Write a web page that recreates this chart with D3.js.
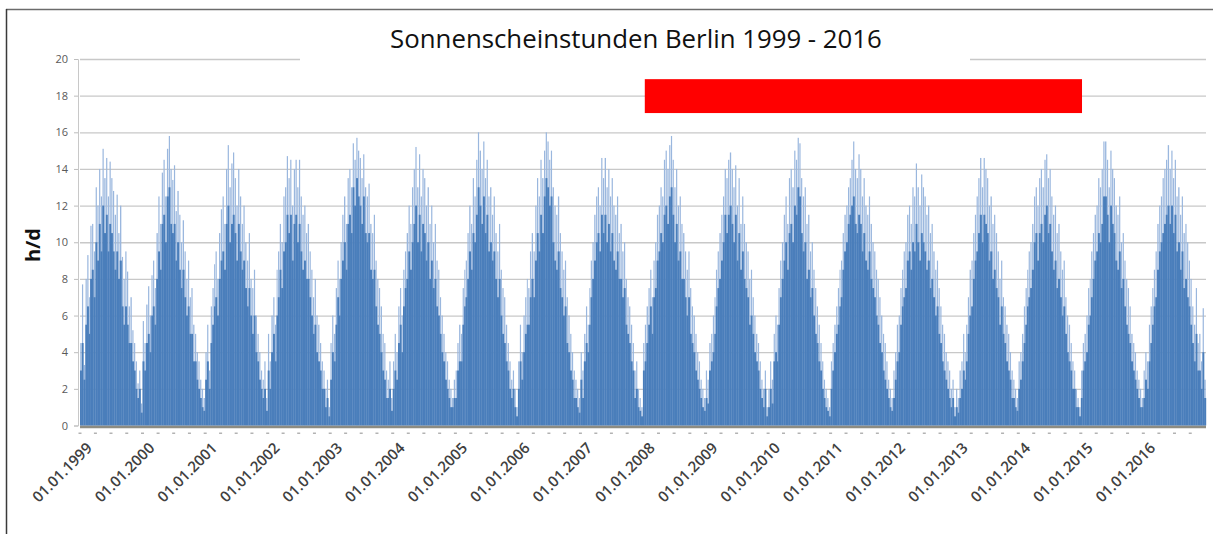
<!DOCTYPE html>
<html>
<head>
<meta charset="utf-8">
<script src="https://cdn.jsdelivr.net/npm/d3@7"></script>
<style>
  body { margin: 0; background: #fff; }
  svg { display: block; font-family: "Open Sans", sans-serif; }
</style>
</head>
<body>
<div id="chart"></div>
<script>
// tick labels and axis values
const yearLabels = ["01.01.1999","01.01.2000","01.01.2001","01.01.2002","01.01.2003","01.01.2004",
  "01.01.2005","01.01.2006","01.01.2007","01.01.2008","01.01.2009","01.01.2010",
  "01.01.2011","01.01.2012","01.01.2013","01.01.2014","01.01.2015","01.01.2016"];
const yTicks = [0, 2, 4, 6, 8, 10, 12, 14, 16, 18, 20];

// sunshine hours per day, read per 10-day period (3 per month): the highest days
const peakHours = [
  [4.5,7.7,3.3,8.0,9.3,7.0,10.9,11.0,9.5,13.0,12.0,14.0,12.5,15.1,13.5,14.6,12.5,14.4,13.5,12.8,11.5,12.6,10.5,12.0,9.2,8.0,9.5,8.4,6.5,7.0,5.2,4.5,3.5,2.3,3.0,1.2],
  [5.7,4.5,6.6,7.6,6.0,8.2,9.0,7.5,10.5,12.5,11.0,13.8,14.5,12.5,15.1,15.8,14.0,13.4,14.2,11.7,12.8,11.5,10.0,11.2,9.5,8.0,9.0,7.0,7.5,5.5,5.0,4.0,3.5,2.5,2.0,1.5],
  [4.0,5.5,3.0,6.5,7.5,8.8,9.5,8.0,10.5,11.8,12.5,11.0,14.0,15.3,13.0,14.3,14.9,13.5,12.0,14.0,12.5,11.0,12.0,10.0,9.0,10.5,8.0,7.5,8.5,6.0,5.0,4.0,3.0,2.5,3.5,1.5],
  [5.0,3.5,6.0,7.0,5.5,8.5,9.5,11.0,10.0,12.5,13.0,14.7,13.5,14.5,12.0,14.0,14.5,13.0,14.5,12.5,11.5,12.0,10.5,11.0,9.5,8.5,7.0,8.0,6.0,5.5,4.5,3.5,3.0,2.0,2.5,1.0],
  [4.5,6.0,5.0,7.5,9.0,8.0,10.0,11.5,12.5,11.0,13.5,14.0,13.0,15.4,14.5,15.7,15.0,14.6,13.5,14.8,13.0,12.5,13.2,11.0,10.5,11.5,9.0,8.0,7.5,6.5,5.0,4.5,3.0,2.5,3.5,1.5],
  [3.5,5.0,4.0,6.5,7.5,6.0,8.5,9.5,10.5,12.0,11.0,13.0,14.0,15.2,13.0,14.8,12.5,14.0,13.5,12.0,13.0,11.0,12.0,10.0,11.0,9.0,8.5,7.0,6.0,5.0,4.0,3.5,2.5,2.0,1.5,2.5],
  [3.0,4.5,5.5,5.0,7.5,8.5,9.0,10.5,12.0,11.0,13.5,12.5,14.5,16.0,15.0,14.0,15.5,13.5,14.5,12.5,13.0,11.5,12.5,10.5,9.5,11.0,8.5,7.5,7.0,5.5,4.5,3.5,2.5,3.0,2.0,1.0],
  [3.5,5.5,4.0,6.0,7.0,8.0,7.5,9.5,10.5,9.5,12.0,13.5,12.5,14.5,13.5,15.0,16.0,15.5,14.5,15.0,13.0,12.0,11.5,12.5,10.5,9.5,8.5,9.0,7.0,6.0,5.0,4.0,3.0,2.5,2.0,1.5],
  [4.0,3.0,5.0,6.5,5.5,7.5,9.0,10.0,11.5,12.5,13.0,12.0,14.6,13.5,14.6,13.0,14.0,12.5,13.5,12.0,11.5,12.5,10.5,11.0,9.5,10.0,8.0,7.0,6.5,5.5,4.5,3.0,3.5,2.0,1.5,1.0],
  [4.5,5.5,6.5,7.5,8.5,7.0,9.0,10.0,11.5,12.0,13.0,12.5,14.5,15.0,14.0,15.3,15.8,14.5,13.0,14.0,12.0,12.5,11.0,10.5,9.5,8.5,9.5,7.5,6.5,6.0,5.0,4.0,3.5,2.5,2.0,1.5],
  [3.0,2.5,4.5,5.0,6.0,7.0,8.5,9.5,10.5,11.5,12.5,14.0,13.5,14.5,14.9,14.0,13.0,14.2,12.0,13.5,11.0,12.5,11.0,10.0,9.5,8.0,8.5,7.0,6.0,5.0,4.5,3.5,2.5,2.0,3.0,1.0],
  [2.0,3.5,2.5,5.0,6.0,5.5,7.5,9.0,10.0,11.5,12.5,11.0,13.5,14.0,13.0,15.0,14.5,15.7,15.4,13.5,12.5,13.0,11.0,11.5,9.5,10.0,8.5,7.5,6.5,5.5,4.5,3.5,2.5,2.0,1.5,1.0],
  [3.5,4.5,5.5,6.5,7.5,8.5,9.0,10.5,11.5,12.0,13.0,13.5,14.5,15.5,14.0,13.5,14.8,14.0,12.5,13.5,12.0,11.5,12.5,11.0,10.0,9.5,8.5,8.0,7.0,6.0,5.0,4.5,3.5,2.5,2.0,1.5],
  [3.0,4.0,5.5,6.0,7.5,8.5,9.5,10.0,11.5,12.0,11.0,13.0,12.5,14.3,13.0,12.0,13.7,13.0,12.5,11.5,12.0,10.5,11.0,9.5,8.5,9.0,7.5,6.5,5.5,5.0,4.0,3.5,3.0,2.0,2.5,1.0],
  [2.0,1.5,3.0,3.5,5.0,4.0,5.5,7.0,8.5,9.0,10.5,11.5,12.5,13.5,14.6,13.0,14.6,14.0,13.5,12.0,12.5,11.0,11.5,10.5,9.5,8.0,9.0,7.0,6.5,5.5,5.0,4.0,3.0,2.5,2.0,1.5],
  [3.5,4.0,5.0,6.5,7.5,8.5,9.5,10.0,11.0,12.5,13.0,12.0,13.5,14.0,13.0,14.5,14.8,13.5,14.0,12.5,11.5,12.0,10.5,11.0,9.5,8.5,9.0,7.0,6.0,5.5,4.5,3.5,3.0,2.0,1.5,1.0],
  [3.0,4.5,5.0,6.0,7.5,8.0,9.5,10.5,11.5,12.0,13.5,13.0,14.0,15.5,15.5,14.5,13.0,15.0,14.0,13.5,12.0,11.5,12.5,10.0,10.5,9.0,8.0,7.5,6.5,5.0,4.5,4.0,3.0,2.5,2.0,1.5],
  [3.0,4.0,3.5,5.5,6.5,7.5,8.5,9.5,11.0,12.0,12.5,13.5,14.0,14.5,15.3,14.0,15.0,13.5,14.5,12.5,13.0,11.5,12.5,10.5,11.0,10.0,9.0,8.0,6.5,5.5,7.5,4.5,5.0,3.5,6.4,2.5]
];

// the level most days of each 10-day period reach (dense part of the bars)
const typicalHours = [
  [3.0,4.5,2.5,5.5,6.5,5,8,8.5,7,10,9,11,9.5,12,10.5,11.5,9.5,11,10.5,9.5,8.5,9.5,8,9,6.5,5.5,6.5,5.5,4.5,4.5,3.5,3,2,1.5,2,0.7],
  [3.5,3,4.5,5,4,6,6.5,5.5,8,9.5,8.5,11,11.5,10,12.5,13,11,10.5,11,9,10,8.5,7.5,8.5,7,6,6.5,5,5,3.5,3.5,2.5,2,1.5,1,0.8],
  [2.5,3.5,2,4.5,5.5,6.5,7,6,8,9,9.5,8.5,11,12,10,11,11.5,10.5,9,11,9.5,8.5,9,7.5,6.5,7.5,6,5,6,4,3.5,2.5,2,1.5,2,0.8],
  [3,2,4,5,3.5,6,7,8.5,7.5,9.5,10,11.5,10.5,11.5,9,11,11.5,10,11,9.5,8.5,9,8,8,7,6,5,5.5,4,3.5,3,2,2,1,1.5,0.5],
  [2.5,4,3.5,5.5,7,6,8,9,10,8.5,11,11.5,10.5,13,12,13.5,12.5,12,11,12.5,10.5,10,10.5,8.5,8,8.5,6.5,5.5,5,4,3,2.5,1.5,1.5,2,0.8],
  [2,3,2.5,4.5,5.5,4,6.5,7.5,8,9.5,8.5,10,11,12,10,11.5,9.5,11,10.5,9,10,8,9,7.5,8,6.5,6,5,4,3.5,2.5,2,1.5,1,1,1.5],
  [1.5,3,3.5,3.5,5.5,6.5,7,8,9.5,8.5,10.5,10,11.5,13,12,11,12.5,10.5,11.5,9.5,10,9,9.5,8,7,8,6,5,4.5,3.5,3,2,1.5,2,1,0.5],
  [2,3.5,2.5,4,5,5.5,5.5,7,8,7,9,10.5,9.5,11.5,10.5,12.5,13.5,13,12,12.5,10,9,8.5,9.5,7.5,7,6,6.5,4.5,4,3,2.5,1.5,1.5,1,0.7],
  [2.5,1.5,3.5,4.5,4,5.5,7,8,9,10,10.5,9.5,11.5,10.5,11.5,10,11,9.5,10.5,9,8.5,9.5,8,8,7,7.5,5.5,5,4.5,3.5,3,1.5,2,1,0.8,0.5],
  [3,3.5,4.5,5.5,6.5,5,7,7.5,9,9.5,10.5,10,11.5,12,11,12.5,13,11.5,10,11,9,9.5,8,8,7,6,7,5,4.5,4,3,2.5,2,1.5,1,0.8],
  [1.5,1.2,3,3.5,4,5,6.5,7.5,8,9,10,11.5,10.5,11.5,12,11,10,11.5,9,10.5,8.5,9.5,8,7.5,7,5.5,6,5,4,3.5,3,2,1.5,1,2,0.5],
  [1,2,1.2,3.5,4,3.5,5.5,7,8,9,10,8.5,10.5,11,10,12,11.5,13,12.5,10.5,9.5,10,8,8.5,7,7.5,6,5,4.5,3.5,3,2,1.5,1,0.8,0.5],
  [2,3,4,5,5.5,6.5,7,8.5,9.5,10,11,11.5,12,12.5,11,10.5,11.5,11,9.5,10.5,9,8.5,9.5,8,7.5,7,6,5.5,4.5,4,3,2.5,2,1.5,1,0.8],
  [1.5,2.5,3.5,4,5.5,6.5,7,7.5,9,9.5,8.5,10,9.5,11,10,9,10.5,10,9.5,8.5,9,7.5,8,7,6,6.5,5,4.5,3.5,3,2.5,2,1.5,1,1.5,0.5],
  [1,0.7,1.5,2,3,2.5,3.5,5,6,6.5,8,9,9.5,10.5,11.5,10,11.5,11,10.5,9,9.5,8,8.5,7.5,7,5.5,6.5,5,4.5,3.5,3,2.5,1.5,1.5,1,0.8],
  [2,2.5,3.5,4.5,5.5,6.5,7,7.5,8.5,10,10.5,9,10.5,11,10,11.5,12,10.5,11,9.5,8.5,9,7.5,8,7,6,6.5,5,4,3.5,3,2,2,1,1,0.5],
  [1.5,3,3.5,4,5.5,6,7,8,9,9.5,10.5,10,11,12.5,12.5,11.5,10,12,11,10.5,9,8.5,9.5,7.5,8,6.5,5.5,5,4.5,3.5,3,2.5,2,1.5,1,1],
  [1.5,2.5,2,3.5,4.5,5.5,6.5,7,8.5,9.5,10,10.5,11,11.5,12,11,12,10.5,11.5,9.5,10,8.5,9.5,7.5,8,7,6.5,5.5,4.5,3.5,5,3,3,2,4,1.5]
];

// red highlight band drawn in the chart (dates and hour levels)
const highlightFrom = new Date(2008, 0, 12);
const highlightTo = new Date(2015, 0, 8);
const highlightLow = 17.05;
const highlightHigh = 18.9;

const title = "Sonnenscheinstunden Berlin 1999 - 2016";
const yTitle = "h/d";

const width = 1213, height = 534;
const plot = { left: 80, right: 1206, top: 59, bottom: 425.5 };

const svg = d3.select("#chart").append("svg")
  .attr("width", width)
  .attr("height", height);

const x = d3.scaleTime()
  .domain([new Date(1999, 0, 1), new Date(2017, 0, 1)])
  .range([plot.left, plot.right]);

const y = d3.scaleLinear()
  .domain([0, 20])
  .range([plot.bottom, plot.top]);

// frame of the picture
svg.append("line").attr("x1", 6).attr("x2", width).attr("y1", 9.5).attr("y2", 9.5)
  .attr("stroke", "#6b6b6b").attr("stroke-width", 1.5);
svg.append("line").attr("x1", 6.5).attr("x2", 6.5).attr("y1", 9).attr("y2", height)
  .attr("stroke", "#3a3a3a").attr("stroke-width", 1.5);

// gridlines
svg.append("g")
  .attr("transform", "translate(" + plot.left + ",0)")
  .call(d3.axisLeft(y).tickValues(yTicks).tickSize(-(plot.right - plot.left)).tickFormat(""))
  .call(g => g.select(".domain").remove())
  .call(g => g.selectAll("line").attr("stroke", "#c8c8c8").attr("stroke-width", 1.3));

// y axis with labels
svg.append("g")
  .attr("transform", "translate(" + (plot.left - 2) + ",0)")
  .call(d3.axisLeft(y).tickValues(yTicks).tickSize(4).tickPadding(6))
  .call(g => g.select(".domain").attr("stroke", "#c8c8c8"))
  .call(g => g.selectAll("line").attr("stroke", "#bdbdbd"))
  .call(g => g.selectAll("text").attr("fill", "#595959").style("font-size", "11px")
    .style("font-family", "'Open Sans', sans-serif"));

// flatten into 10-day periods
const periods = [];
peakHours.forEach((row, yi) => {
  row.forEach((v, k) => {
    const yr = 1999 + yi, m = Math.floor(k / 3), d = [1, 11, 21][k % 3];
    const start = new Date(yr, m, d);
    const end = k % 3 === 2 ? new Date(yr, m + 1, 1) : new Date(yr, m, d + 10);
    periods.push({ start, end, peak: v, typical: typicalHours[yi][k] });
  });
});

// light spikes: the sunniest days
svg.append("g").selectAll("rect")
  .data(periods)
  .enter()
  .append("rect")
  .attr("x", d => x(d.start) + (x(d.end) - x(d.start)) * 0.15)
  .attr("y", d => y(d.peak))
  .attr("width", d => (x(d.end) - x(d.start)) * 0.7)
  .attr("height", d => y(0) - y(d.peak))
  .attr("fill", "#9ab7de");

// dense part
svg.append("g").selectAll("rect")
  .data(periods)
  .enter()
  .append("rect")
  .attr("x", d => x(d.start))
  .attr("y", d => y(d.typical))
  .attr("width", d => x(d.end) - x(d.start) + 0.2)
  .attr("height", d => y(0) - y(d.typical))
  .attr("fill", "#4a7ebb");

// base line of the category axis
svg.append("line")
  .attr("x1", plot.left).attr("x2", plot.right)
  .attr("y1", y(0) + 1.5).attr("y2", y(0) + 1.5)
  .attr("stroke", "#8d8c82").attr("stroke-width", 2.5);

// small marks below the axis every quarter
const quarters = d3.timeMonth.every(3).range(new Date(1999, 0, 1), new Date(2017, 0, 1));
svg.append("g").selectAll("rect")
  .data(quarters)
  .enter()
  .append("rect")
  .attr("x", d => x(d) - 1.5)
  .attr("y", y(0) + 7)
  .attr("width", 3)
  .attr("height", 1.5)
  .attr("fill", "#b3b3b3");

// year labels
svg.append("g").selectAll("text")
  .data(yearLabels)
  .enter()
  .append("text")
  .attr("transform", (d, i) => "translate(" + (x(new Date(1999 + i, 0, 1)) + 13) + ",449) rotate(-45)")
  .attr("text-anchor", "end")
  .attr("fill", "#404040")
  .style("font-size", "15px")
  .style("font-weight", 600)
  .text(d => d);

// red highlight band
svg.append("rect")
  .attr("x", x(highlightFrom))
  .attr("y", y(highlightHigh))
  .attr("width", x(highlightTo) - x(highlightFrom))
  .attr("height", y(highlightLow) - y(highlightHigh))
  .attr("fill", "#ff0000");

// title area (covers the top gridline)
svg.append("rect")
  .attr("x", 300).attr("y", 18).attr("width", 670).attr("height", 47)
  .attr("fill", "#fff");
const t = svg.append("text")
  .attr("x", 636).attr("y", 48)
  .attr("text-anchor", "middle")
  .attr("fill", "#111")
  .style("font-size", "24px")
  .text(title);
const tl = t.node().getComputedTextLength();
t.style("font-size", (24 * 492 / tl).toFixed(2) + "px");

// y axis title
svg.append("text")
  .attr("transform", "translate(40,245) rotate(-90)")
  .attr("text-anchor", "middle")
  .attr("fill", "#111")
  .style("font-size", "20px")
  .style("font-weight", 700)
  .text(yTitle);
</script>
</body>
</html>
